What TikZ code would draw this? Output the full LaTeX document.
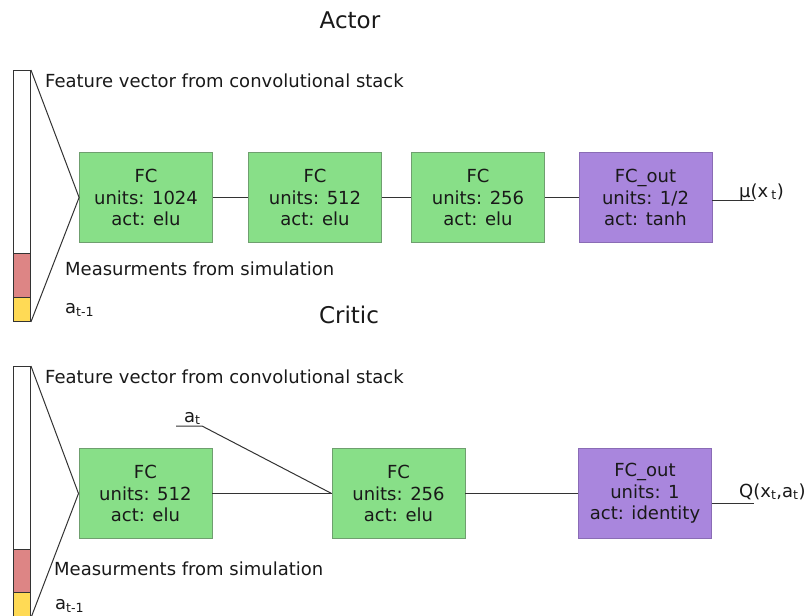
\documentclass[tikz,border=0pt]{standalone}
\usepackage{fontspec}
\setmainfont{DejaVu Sans}
\definecolor{fcgreen}{HTML}{88DF88}
\definecolor{fcgreenb}{HTML}{6F9F6F}
\definecolor{fcpurple}{HTML}{A986DD}
\definecolor{fcpurpleb}{HTML}{8A6CB5}
\definecolor{measred}{HTML}{DD8585}
\definecolor{actyellow}{HTML}{FFDA55}
\definecolor{linec}{HTML}{333333}
\begin{document}
\begin{tikzpicture}[x=1pt,y=-1pt,
  fcbox/.style={rectangle, draw=fcgreenb, fill=fcgreen, line width=0.8pt, minimum width=133pt, minimum height=89.5pt, inner sep=0pt, align=center, font=\fontsize{18}{21.6}\selectfont, text=black!90},
  outbox/.style={fcbox, draw=fcpurpleb, fill=fcpurple},
  barseg/.style={rectangle, draw=linec, line width=0.9pt, minimum width=17.5pt, inner sep=0pt, anchor=north},
  conn/.style={draw=linec, line width=1pt},
  lbl/.style={font=\fontsize{18}{21.6}\selectfont, anchor=base west, inner sep=0pt, text=black!90},
  ttl/.style={font=\fontsize{23}{27}\selectfont, anchor=base, inner sep=0pt, text=black!90}]
\useasboundingbox (0,0) rectangle (809,616);

% ---------- Actor ----------
\node[ttl] (actortitle) at (350,28) {Actor};
\node[barseg, fill=white, minimum height=183pt] (abw) at (21.75,70) {};
\node[barseg, fill=measred, minimum height=44pt] (abr) at (21.75,253) {};
\node[barseg, fill=actyellow, minimum height=24pt] (aby) at (21.75,297) {};

\node[lbl] (afeat) at (45,87) {Feature vector from convolutional stack};
\node[lbl] (ameas) at (65,275.5) {Measurments from simulation};
\node[lbl] (aprev) at (65,313) {a\textsubscript{t-1}};

\node[fcbox] (afc1) at (146,197.5) {FC\\units: 1024\\act: elu};
\node[fcbox] (afc2) at (315,197.5) {FC\\units: 512\\act: elu};
\node[fcbox] (afc3) at (478,197.5) {FC\\units: 256\\act: elu};
\node[outbox] (aout) at (645.5,197.5) {FC\_out\\units: 1/2\\act: tanh};

\draw[conn] (abw.north east) -- (afc1.west) -- (aby.south east);
\draw[conn] (afc1) -- (afc2);
\draw[conn] (afc2) -- (afc3);
\draw[conn] (afc3) -- (aout);
\coordinate (aend) at (754,200.5);
\draw[conn] (aout.east |- aend) -- (aend);
\node[lbl] (amu) at (739,197) {μ(x\,\textsubscript{t})};

% ---------- Critic ----------
\node[ttl] (critictitle) at (349,323) {Critic};
\node[barseg, fill=white, minimum height=183pt] (cbw) at (21.75,366) {};
\node[barseg, fill=measred, minimum height=43pt] (cbr) at (21.75,549) {};
\node[barseg, fill=actyellow, minimum height=25pt] (cby) at (21.75,592) {};

\node[lbl] (cfeat) at (45,383) {Feature vector from convolutional stack};
\node[lbl] (cmeas) at (54,575) {Measurments from simulation};
\node[lbl] (cprev) at (55,609) {a\textsubscript{t-1}};

\node[fcbox] (cfc1) at (145.4,493.5) {FC\\units: 512\\act: elu};
\node[fcbox] (cfc2) at (398.5,493.5) {FC\\units: 256\\act: elu};
\node[outbox] (cout) at (645,493.5) {FC\_out\\units: 1\\act: identity};

\draw[conn] (cbw.north east) -- (cfc1.west) -- (cby.south east);
\draw[conn] (cfc1) -- (cfc2);
\draw[conn] (cfc2) -- (cout);
\coordinate (atstart) at (176,426);
\coordinate (atknee) at (202,426);
\draw[conn] (atstart) -- (atknee) -- (cfc2.west);
\node[lbl] (atlbl) at (184,422) {a\textsubscript{t}};
\coordinate (cend) at (754,503);
\draw[conn] (cout.east |- cend) -- (cend);
\node[lbl] (cq) at (739,497) {Q(x\textsubscript{t},a\textsubscript{t})};
\end{tikzpicture}
\end{document}
